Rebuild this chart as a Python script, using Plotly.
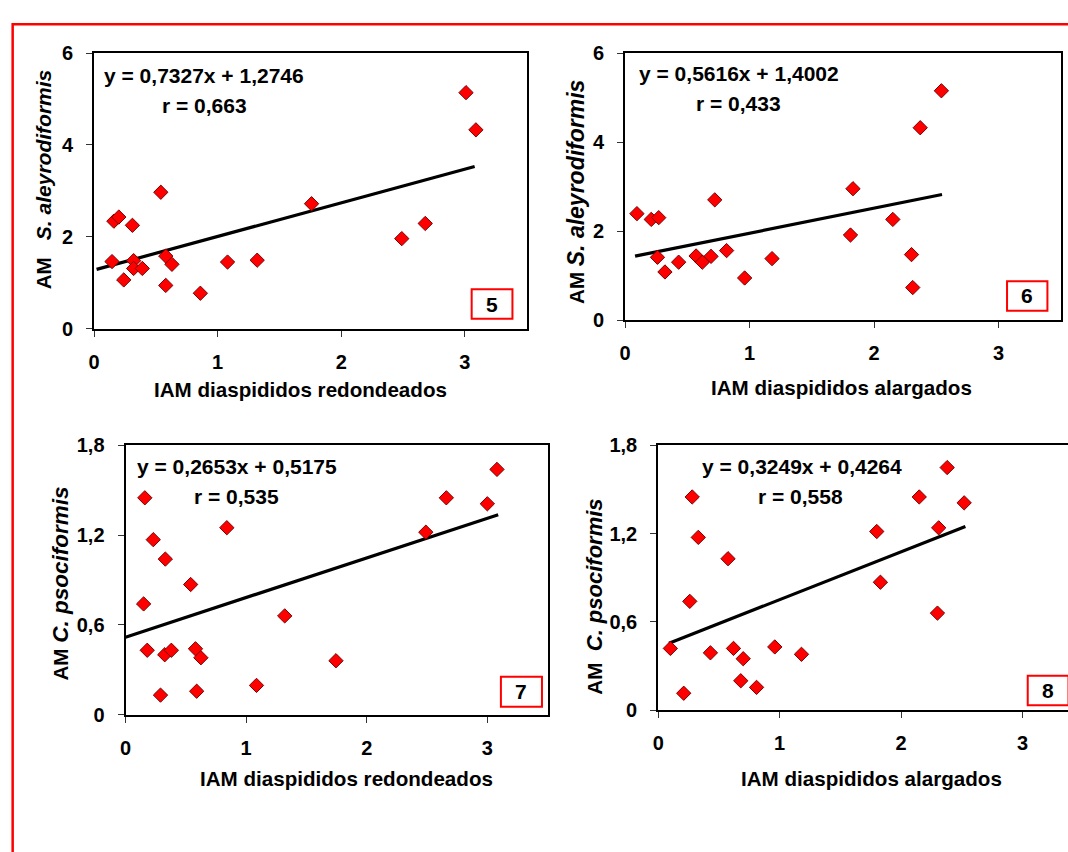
import plotly.graph_objects as go

W, H = 1068, 852
FONT = "Liberation Sans, Arial, sans-serif"

# ---------------- data ----------------
# Panel 5: IAM diaspididos redondeados vs AM S. aleyrodiformis
p5_x = [3.01, 3.09, 0.54, 1.76, 0.16, 0.20, 0.31, 2.68, 2.49, 0.145,
        0.32, 0.32, 0.39, 0.58, 0.63, 1.08, 1.32, 0.24, 0.58, 0.86]
p5_y = [5.14, 4.33, 2.97, 2.72, 2.34, 2.43, 2.25, 2.29, 1.96, 1.46,
        1.48, 1.31, 1.31, 1.58, 1.40, 1.45, 1.49, 1.06, 0.94, 0.77]
p5_fit = (0.7327, 1.2746)
p5_fit_x = [0.02, 3.08]

# Panel 6: IAM diaspididos alargados vs AM S. aleyrodiformis
p6_x = [2.54, 2.37, 1.83, 0.72, 0.095, 0.21, 0.27, 2.15, 1.81, 0.815,
        0.26, 0.57, 0.69, 0.62, 0.43, 1.18, 2.30, 0.32, 0.96, 2.31]
p6_y = [5.16, 4.33, 2.96, 2.71, 2.40, 2.27, 2.31, 2.27, 1.92, 1.57,
        1.42, 1.45, 1.44, 1.31, 1.31, 1.39, 1.48, 1.09, 0.955, 0.74]
p6_fit = (0.5616, 1.4002)
p6_fit_x = [0.08, 2.545]

# Panel 7: IAM diaspididos redondeados vs AM C. psociformis
p7_x = [3.08, 0.16, 2.66, 3.00, 0.84, 2.49, 0.23, 0.33, 0.54, 0.15,
        1.32, 0.18, 0.325, 0.38, 0.58, 0.625, 1.745, 1.086, 0.29, 0.59]
p7_y = [1.64, 1.45, 1.45, 1.41, 1.25, 1.22, 1.17, 1.04, 0.87, 0.74,
        0.66, 0.43, 0.40, 0.43, 0.44, 0.38, 0.36, 0.195, 0.13, 0.156]
p7_fit = (0.2653, 0.5175)
p7_fit_x = [0.0, 3.09]

# Panel 8: IAM diaspididos alargados vs AM C. psociformis
p8_x = [2.38, 0.28, 2.15, 2.52, 1.80, 2.31, 0.33, 0.575, 1.83, 0.26,
        2.30, 0.10, 0.62, 0.43, 0.96, 0.70, 1.18, 0.68, 0.81, 0.21]
p8_y = [1.65, 1.45, 1.45, 1.41, 1.215, 1.24, 1.175, 1.03, 0.87, 0.74,
        0.66, 0.42, 0.42, 0.39, 0.43, 0.35, 0.38, 0.20, 0.155, 0.115]
p8_fit = (0.3249, 0.4264)
p8_fit_x = [0.089, 2.53]

x_titles = ["IAM diaspididos redondeados", "IAM diaspididos alargados",
            "IAM diaspididos redondeados", "IAM diaspididos alargados"]
y_prefix = ["AM&nbsp;&nbsp; ", "AM ", "AM ", "AM&nbsp; "]
y_species = ["S. aleyrodiformis", "S. aleyrodiformis", "C. psociformis", "C. psociformis"]
eq_texts = ["y = 0,7327x + 1,2746", "y = 0,5616x + 1,4002",
            "y = 0,2653x + 0,5175", "y = 0,3249x + 0,4264"]
r_texts = ["r = 0,663", "r = 0,433", "r = 0,535", "r = 0,558"]
panel_nums = ["5", "6", "7", "8"]

# ---------------- layout geometry (pixels) ----------------
def px(p):
    return p / W

def py(p):
    return 1 - p / H

panels = [
    dict(x=p5_x, y=p5_y, fit=p5_fit, fx=p5_fit_x, dom=(88.6, 523.5, 43.3, 326.0),
         xr=[0, 3.5], yr=[0, 6], dy=2, mirror_y=True, isz=21,
         xt=(296, 389), yt=(37.5, 172.5), eq=(199, 66.7), r=(200, 96.7),
         box=(468.3, 509.3, 285.7, 316.0)),
    dict(x=p6_x, y=p6_y, fit=p6_fit, fx=p6_fit_x, dom=(622.6, 1060.9, 43.5, 317.7),
         xr=[0, 3.5], yr=[0, 6], dy=2, mirror_y=True, isz=23,
         xt=(840.5, 386.7), yt=(573.2, 185.8), eq=(737, 64.3), r=(737, 94.7),
         box=(1006.7, 1047.3, 277.3, 307.7)),
    dict(x=p7_x, y=p7_y, fit=p7_fit, fx=p7_fit_x, dom=(120.2, 544.7, 446.0, 722.2),
         xr=[0, 3.5], yr=[0, 1.8], dy=0.6, mirror_y=True, isz=22.5,
         xt=(342.3, 788.3), yt=(54.5, 587.5), eq=(232.5, 467.7), r=(232, 498.7),
         box=(497.7, 539.0, 683.3, 714.3)),
    dict(x=p8_x, y=p8_y, fit=p8_fit, fx=p8_fit_x, dom=(655.9, 1068.0, 446.0, 717.7),
         xr=[0, (1068.0 - 655.9) / 122.1], yr=[0, 1.8], dy=0.6, mirror_y=False, isz=22,
         xt=(870.3, 788.3), yt=(591.9, 601.7), eq=(800, 467.7), r=(799, 498),
         box=(1027.5, 1068.5, 682.3, 712.7)),
]

fig = go.Figure()
annotations = []
shapes = []

for i, p in enumerate(panels):
    n = "" if i == 0 else str(i + 1)
    xa, ya = "x" + n, "y" + n
    slope, icpt = p["fit"]
    fit_y = [slope * v + icpt for v in p["fx"]]
    fig.add_trace(go.Scatter(
        x=p["fx"], y=fit_y, mode="lines", xaxis=xa, yaxis=ya,
        line=dict(color="black", width=3.2), showlegend=False, hoverinfo="skip"))
    fig.add_trace(go.Scatter(
        x=p["x"], y=p["y"], mode="markers", xaxis=xa, yaxis=ya,
        marker=dict(symbol="diamond", size=11, color="#FF0000",
                    line=dict(color="#7A0000", width=1)),
        showlegend=False))

    x0, x1, y0, y1 = p["dom"]
    common = dict(showgrid=False, zeroline=False, showline=True, linecolor="black",
                  linewidth=2, ticks="outside", ticklen=6, tickwidth=1,
                  tickcolor="#333333",
                  tickfont=dict(family=FONT, size=20, color="black", weight="bold"),
                  fixedrange=True)
    fig.layout["xaxis" + n] = dict(
        common, domain=[px(x0), min(px(x1), 1.0)], range=p["xr"], dtick=1, tick0=0,
        anchor=ya, mirror=True, ticklabelstandoff=8)
    fig.layout["yaxis" + n] = dict(
        common, domain=[py(y1), py(y0)], range=p["yr"], dtick=p["dy"], tick0=0,
        anchor=xa, mirror=p["mirror_y"], ticklabelstandoff=9)

    tf = dict(family=FONT, size=20.6, color="black")
    ef = dict(family=FONT, size=21, color="black")
    ytxt = ("<b>" + y_prefix[i] + "<i><span style='font-size:%gpx'>" % p["isz"]
            + y_species[i] + "</span></i></b>")
    annotations.append(dict(x=px(p["xt"][0]), y=py(p["xt"][1]), xref="paper", yref="paper",
                            text="<b>" + x_titles[i] + "</b>", showarrow=False,
                            xanchor="center", yanchor="middle", font=tf))
    annotations.append(dict(x=px(p["yt"][0]), y=py(p["yt"][1]), xref="paper", yref="paper",
                            text=ytxt, showarrow=False,
                            textangle=-90, xanchor="center", yanchor="middle", font=tf))
    annotations.append(dict(x=px(p["eq"][0]), y=py(p["eq"][1]), xref="paper", yref="paper",
                            text="<b>" + eq_texts[i] + "</b>", showarrow=False,
                            xanchor="center", yanchor="middle", font=ef))
    annotations.append(dict(x=px(p["r"][0]), y=py(p["r"][1]), xref="paper", yref="paper",
                            text="<b>" + r_texts[i] + "</b>", showarrow=False,
                            xanchor="center", yanchor="middle", font=ef))
    bx0, bx1, by0, by1 = p["box"]
    shapes.append(dict(type="rect", xref="paper", yref="paper",
                       x0=px(bx0), x1=px(bx1), y0=py(by1), y1=py(by0),
                       line=dict(color="#FF0000", width=2), fillcolor="white", layer="above"))
    annotations.append(dict(x=px((bx0 + bx1) / 2), y=py((by0 + by1) / 2), xref="paper",
                            yref="paper", text="<b>" + panel_nums[i] + "</b>",
                            showarrow=False, xanchor="center", yanchor="middle",
                            font=dict(family=FONT, size=21, color="black")))

# outer red frame (extends beyond right and bottom edges)
shapes.append(dict(type="rect", xref="paper", yref="paper",
                   x0=px(6.7), x1=1.1, y0=-0.1, y1=py(13.7),
                   line=dict(color="#FF0000", width=2.5), layer="above"))

fig.update_layout(
    width=W, height=H,
    margin=dict(l=0, r=0, t=0, b=0),
    paper_bgcolor="white", plot_bgcolor="white",
    separators=",.",
    font=dict(family=FONT, size=20, color="black"),
    annotations=annotations, shapes=shapes,
    showlegend=False,
)

fig.write_html(
    "out.html",
    config={"displayModeBar": False},
    post_script="document.body.style.margin='0';document.body.style.padding='0';"
                "document.body.style.overflow='hidden';"
                "document.documentElement.style.overflow='hidden';",
)
